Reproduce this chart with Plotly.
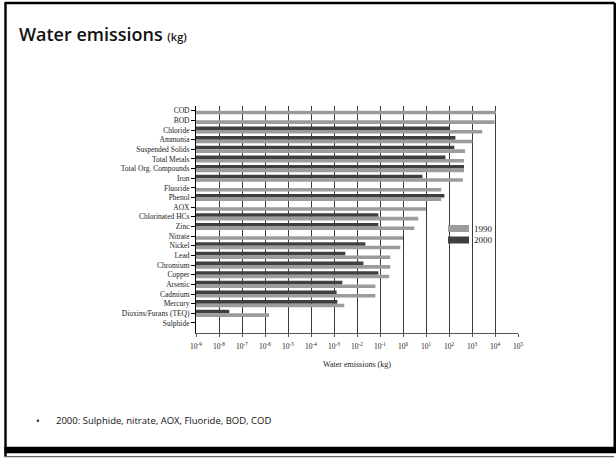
import plotly.graph_objects as go

# Water emissions per substance, 1990 vs 2000 (kg, log scale)
categories = [
    "COD", "BOD", "Chloride", "Ammonia", "Suspended Solids", "Total Metals",
    "Total Org. Compounds", "Iron", "Fluoride", "Phenol", "AOX",
    "Chlorinated HCs", "Zinc", "Nitrate", "Nickel", "Lead", "Chromium",
    "Copper", "Arsenic", "Cadmium", "Mercury", "Dioxins/Furans (TEQ)", "Sulphide",
]
emissions_1990 = [
    1.1e4, 9.5e3, 2800, 1050, 500, 450, 450, 400, 46, 46, 10, 4.6, 3.1,
    1.0, 0.76, 0.28, 0.28, 0.25, 0.063, 0.063, 0.0028, 1.5e-6, None,
]
emissions_2000 = [
    None, None, 100, 190, 170, 70, 450, 7, None, 63, None, 0.085, 0.085,
    None, 0.023, 0.0031, 0.019, 0.085, 0.0023, 0.0013, 0.0014, 2.8e-8, None,
]
decades = list(range(-9, 6))
tick_labels = [f"10<sup>{d}</sup>" for d in decades]

COLOR_1990 = "#9c9c9c"
COLOR_2000 = "#404040"
SERIF = "Liberation Serif"
SANS = "Open Sans"

W, H = 616, 459
ML, MR, MT, MB = 196, 98, 106, 126
PW, PH = W - ML - MR, H - MT - MB


def px(x):
    return (x - ML) / PW


def py(y):
    return (H - MB - y) / PH


fig = go.Figure()
fig.add_trace(go.Bar(
    name="2000", y=categories, x=emissions_2000, orientation="h",
    marker=dict(color=COLOR_2000, line=dict(width=0)), showlegend=False,
))
fig.add_trace(go.Bar(
    name="1990", y=categories, x=emissions_1990, orientation="h",
    marker=dict(color=COLOR_1990, line=dict(width=0)), showlegend=False,
))

shapes = []
annotations = []

# legend swatches and labels
for label, color, y0 in [("1990", COLOR_1990, 225), ("2000", COLOR_2000, 236.5)]:
    shapes.append(dict(type="rect", xref="paper", yref="paper",
                       x0=px(448), x1=px(469), y0=py(y0), y1=py(y0 + 7),
                       fillcolor=color, line=dict(width=0), layer="above"))
    annotations.append(dict(text=label, xref="paper", yref="paper",
                            x=px(472), y=py(y0 + 3.5), xanchor="left", yanchor="middle",
                            showarrow=False, font=dict(family=SERIF, size=9, color="#222")))

# slide frame
frame = "#000000"
shapes += [
    dict(type="line", xref="paper", yref="paper", x0=px(5.5), x1=px(5.5), y0=py(3), y1=py(457),
         line=dict(color=frame, width=2.4)),
    dict(type="line", xref="paper", yref="paper", x0=px(4.5), x1=px(614.8), y0=py(3), y1=py(3),
         line=dict(color=frame, width=2.4)),
    dict(type="line", xref="paper", yref="paper", x0=px(614.8), x1=px(614.8), y0=py(3), y1=py(453),
         line=dict(color=frame, width=2.6)),
    dict(type="rect", xref="paper", yref="paper", x0=px(4.5), x1=px(616), y0=py(446.7), y1=py(453.3),
         fillcolor=frame, line=dict(width=0)),
    dict(type="line", xref="paper", yref="paper", x0=px(4.5), x1=px(614), y0=py(456.6), y1=py(456.6),
         line=dict(color="#666", width=1.4)),
]

# slide title and note
annotations += [
    dict(text="Water emissions <span style='font-size:11px'>(kg)</span>",
         xref="paper", yref="paper", x=px(17), y=py(33.5), xanchor="left", yanchor="middle",
         showarrow=False, font=dict(family=SANS, size=18, color="#111", weight=600)),
    dict(text="•", xref="paper", yref="paper", x=px(38), y=py(420.5), xanchor="center",
         yanchor="middle", showarrow=False, font=dict(family=SANS, size=10, color="#111")),
    dict(text="2000: Sulphide, nitrate, AOX, Fluoride, BOD, COD", xref="paper", yref="paper",
         x=px(54), y=py(420.5), xanchor="left", yanchor="middle", showarrow=False,
         font=dict(family=SANS, size=9.5, color="#111")),
]

fig.update_layout(
    width=W, height=H, autosize=False,
    margin=dict(l=ML, r=MR, t=MT, b=MB, pad=0),
    paper_bgcolor="white", plot_bgcolor="white",
    barmode="group", bargap=0.26, bargroupgap=0,
    shapes=shapes, annotations=annotations,
    showlegend=False,
)
fig.update_xaxes(
    type="log", range=[-9, 5],
    tickvals=[10.0 ** d for d in decades], ticktext=tick_labels,
    tickfont=dict(family=SERIF, size=7.5, color="#222"),
    ticklabelstandoff=3,
    showgrid=True, gridcolor="#3a3a3a", gridwidth=1,
    showline=True, linecolor="#555", linewidth=1,
    ticks="outside", ticklen=3, tickcolor="#555",
    zeroline=False,
    title=dict(text="Water emissions (kg)", font=dict(family=SERIF, size=8, color="#222"), standoff=11),
)
fig.update_yaxes(
    type="category", categoryorder="array", categoryarray=categories,
    range=[23.04, -0.49],
    tickfont=dict(family=SERIF, size=7.5, color="#222"),
    showgrid=False, showline=True, linecolor="#000", linewidth=1,
    ticks="outside", ticklen=4, tickcolor="#000",
    zeroline=False,
)

fig.write_html("out.html")
